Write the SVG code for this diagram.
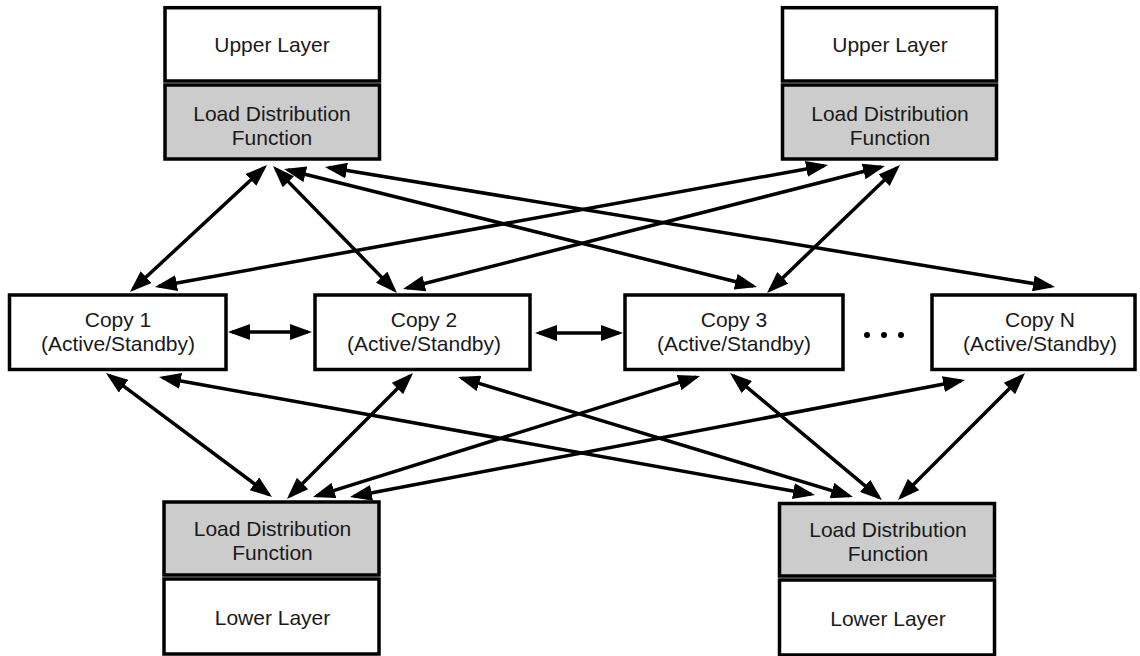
<svg xmlns="http://www.w3.org/2000/svg" width="1140" height="656" viewBox="0 0 1140 656">
<style>
.box{fill:#ffffff;stroke:#000000;stroke-width:3.5}
.ldf{fill:#cccccc;stroke:#000000;stroke-width:3.5}
.t{font-family:"Liberation Sans",Arial,sans-serif;font-size:21px;fill:#1a1a1a;text-anchor:middle}
.c line{stroke:#000000;stroke-width:3.5;marker-start:url(#ah);marker-end:url(#ah)}
</style>
<defs>
<marker id="ah" markerUnits="userSpaceOnUse" markerWidth="22" markerHeight="16" refX="18" refY="8" orient="auto-start-reverse" viewBox="0 0 22 16">
<path d="M0,0 L22,8 L0,16 z" fill="#000000"/>
</marker>
</defs>
<rect width="1140" height="656" fill="#ffffff"/>
<g id="top-left">
<rect class="box" x="165" y="7.7" width="214.5" height="73.3"/>
<rect class="ldf" x="165" y="85" width="214.5" height="74"/>
<text class="t" x="272" y="52">Upper Layer</text>
<text class="t" x="272" y="121">Load Distribution</text>
<text class="t" x="272" y="145">Function</text>
</g>
<g id="top-right">
<rect class="box" x="782.5" y="7.7" width="214" height="73.3"/>
<rect class="ldf" x="782.5" y="85" width="214" height="74"/>
<text class="t" x="890" y="52">Upper Layer</text>
<text class="t" x="890" y="121">Load Distribution</text>
<text class="t" x="890" y="145">Function</text>
</g>
<g id="copy1">
<rect class="box" x="9.5" y="295" width="216.5" height="74.5"/>
<text class="t" x="118" y="327">Copy 1</text>
<text class="t" x="118" y="351">(Active/Standby)</text>
</g>
<g id="copy2">
<rect class="box" x="315" y="295" width="215" height="74.5"/>
<text class="t" x="424" y="327">Copy 2</text>
<text class="t" x="424" y="351">(Active/Standby)</text>
</g>
<g id="copy3">
<rect class="box" x="625" y="295" width="218" height="74.5"/>
<text class="t" x="734" y="327">Copy 3</text>
<text class="t" x="734" y="351">(Active/Standby)</text>
</g>
<g id="ellipsis">
<circle cx="867" cy="335" r="3"/>
<circle cx="884" cy="335" r="3"/>
<circle cx="901" cy="335" r="3"/>
</g>
<g id="copyN">
<rect class="box" x="932" y="295" width="203" height="74.5"/>
<text class="t" x="1040" y="327">Copy N</text>
<text class="t" x="1040" y="351">(Active/Standby)</text>
</g>
<g id="bottom-left">
<rect class="ldf" x="164" y="502" width="215" height="73"/>
<rect class="box" x="164" y="579" width="215" height="75"/>
<text class="t" x="272.5" y="536">Load Distribution</text>
<text class="t" x="272.5" y="560">Function</text>
<text class="t" x="272.5" y="625">Lower Layer</text>
</g>
<g id="bottom-right">
<rect class="ldf" x="779.5" y="503.5" width="215" height="72.5"/>
<rect class="box" x="779.5" y="580" width="215" height="75"/>
<text class="t" x="888" y="537">Load Distribution</text>
<text class="t" x="888" y="561">Function</text>
<text class="t" x="888" y="626">Lower Layer</text>
</g>
<g id="connectors" class="c">
<line x1="264.1" y1="167.7" x2="132.9" y2="289.3"/>
<line x1="275.8" y1="168.9" x2="394.2" y2="290.1"/>
<line x1="287.9" y1="170" x2="753.1" y2="286"/>
<line x1="328.9" y1="167.6" x2="1051.1" y2="286.4"/>
<line x1="824.1" y1="165.7" x2="158.9" y2="286.3"/>
<line x1="881.1" y1="167" x2="406.9" y2="288"/>
<line x1="897.1" y1="167.8" x2="769.9" y2="290.2"/>
<line x1="109.2" y1="375.4" x2="268.8" y2="494.6"/>
<line x1="410.2" y1="375.8" x2="289.8" y2="496.2"/>
<line x1="696.2" y1="377.2" x2="316.8" y2="495.8"/>
<line x1="961.1" y1="380.7" x2="353.9" y2="496.3"/>
<line x1="162.9" y1="377.7" x2="811.1" y2="494.3"/>
<line x1="461.8" y1="378.2" x2="849.2" y2="495.8"/>
<line x1="733.1" y1="375.6" x2="878.9" y2="497.4"/>
<line x1="1022.2" y1="375.8" x2="900.8" y2="497.2"/>
<line x1="232" y1="332" x2="308" y2="332"/>
<line x1="539" y1="333" x2="619" y2="333"/>
</g>
</svg>
